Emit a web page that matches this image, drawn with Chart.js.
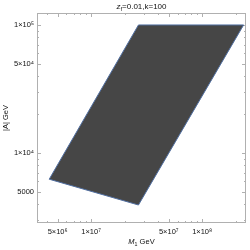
<!DOCTYPE html>
<html><head><meta charset="utf-8">
<script src="https://cdn.jsdelivr.net/npm/chart.js@4/dist/chart.umd.min.js"></script>
<style>html,body{margin:0;padding:0;background:#fff;}canvas{display:block;}</style>
</head><body>
<canvas id="c" width="250" height="250"></canvas>
<script>
// Region boundary (vertices of the allowed region, log-log)
const regionM = [4.2e6, 2.67e7, 2.36e8, 2.67e7, 4.2e6];
const regionA = [6240, 1.0e5, 1.0e5, 3925, 6240];
// Axis ticks
const xTickValues = [5e6, 1e7, 5e7, 1e8];
const xTickLabels = ['5×10⁶', '1×10⁷', '5×10⁷', '1×10⁸'];
const yTickValues = [5000, 1e4, 5e4, 1e5];
const yTickLabels = ['5000', '1×10⁴', '5×10⁴', '1×10⁵'];
const xMinorValues = [4e6, 6e6, 7e6, 8e6, 9e6, 2e7, 3e7, 4e7, 6e7, 7e7, 8e7, 9e7, 2e8];
const yMinorValues = [3000, 4000, 6000, 7000, 8000, 9000, 2e4, 3e4, 4e4, 6e4, 7e4, 8e4, 9e4];
const xRange = [3.26e6, 2.48e8];
const yRange = [2840, 1.24e5];
const titleParts = [['z', 'italic'], ['f', 'sub'], ['=0.01,k=100', 'normal']];
const xTitleParts = [['M', 'italic'], ['1', 'sub'], [' GeV', 'normal']];
const yTitleParts = [['|A| GeV', 'normal']];

const FONT = '"Liberation Sans", "DejaVu Sans", Arial, sans-serif';

function drawParts(ctx, parts, size, cx, cy) {
  const segs = parts.map(([t, s]) => {
    const fs = s === 'sub' ? size * 0.7 : size;
    const style = s === 'italic' ? 'italic ' : '';
    ctx.font = style + fs + 'px ' + FONT;
    return {t, s, font: ctx.font, w: ctx.measureText(t).width};
  });
  const total = segs.reduce((a, b) => a + b.w, 0);
  let x = cx - total / 2;
  ctx.textBaseline = 'middle';
  ctx.textAlign = 'left';
  for (const sg of segs) {
    ctx.font = sg.font;
    ctx.fillText(sg.t, x, sg.s === 'sub' ? cy + size * 0.3 : cy);
    x += sg.w;
  }
}

const framePlugin = {
  id: 'frame',
  beforeDatasetsDraw(chart) {
    const {ctx, chartArea: a, scales: {x, y}} = chart;
    ctx.save();
    ctx.strokeStyle = '#b0b0b0';
    ctx.lineWidth = 1;
    ctx.strokeRect(a.left + 0.5, a.top + 0.5, a.right - a.left - 1, a.bottom - a.top - 1);
    ctx.beginPath();
    const tick = (vals, len) => {
      for (const v of vals) {
        const px = Math.round(x.getPixelForValue(v)) + 0.5;
        ctx.moveTo(px, a.bottom); ctx.lineTo(px, a.bottom - len);
        ctx.moveTo(px, a.top); ctx.lineTo(px, a.top + len);
      }
    };
    const ytick = (vals, len) => {
      for (const v of vals) {
        const py = Math.round(y.getPixelForValue(v)) + 0.5;
        ctx.moveTo(a.left, py); ctx.lineTo(a.left + len, py);
        ctx.moveTo(a.right, py); ctx.lineTo(a.right - len, py);
      }
    };
    tick(xTickValues, 4); tick(xMinorValues, 2);
    ytick(yTickValues, 4); ytick(yMinorValues, 2);
    ctx.stroke();
    ctx.restore();
  },
  afterDraw(chart) {
    const {ctx, chartArea: a} = chart;
    ctx.save();
    ctx.fillStyle = '#111';
    const cx = (a.left + a.right) / 2;
    drawParts(ctx, titleParts, 8, cx, 7);
    drawParts(ctx, xTitleParts, 7.5, cx, 242);
    ctx.translate(6, (a.top + a.bottom) / 2);
    ctx.rotate(-Math.PI / 2);
    drawParts(ctx, yTitleParts, 7.5, 0, 0);
    ctx.restore();
  }
};

new Chart(document.getElementById('c'), {
  type: 'scatter',
  data: {
    datasets: [{
      data: regionM.map((m, i) => ({x: m, y: regionA[i]})),
      showLine: true,
      fill: 'shape',
      backgroundColor: 'rgb(70,70,70)',
      borderColor: 'rgb(80,110,160)',
      borderWidth: 1,
      pointRadius: 0,
      tension: 0
    }]
  },
  options: {
    responsive: false,
    animation: false,
    devicePixelRatio: 1,
    layout: {padding: {top: 13, right: 4, left: 0, bottom: 0}},
    plugins: {legend: {display: false}, tooltip: {enabled: false}, title: {display: false}, filler: {propagate: false}},
    scales: {
      x: {
        type: 'logarithmic', min: xRange[0], max: xRange[1],
        afterBuildTicks: s => { s.ticks = xTickValues.map(v => ({value: v})); },
        afterFit: s => { s.height = 27; },
        grid: {display: false, drawTicks: false},
        border: {display: false},
        ticks: {
          autoSkip: false, maxRotation: 0, padding: 4, color: '#111',
          font: {size: 7.5, family: FONT},
          callback: v => { const i = xTickValues.indexOf(v); return i >= 0 ? xTickLabels[i] : ''; }
        }
      },
      y: {
        type: 'logarithmic', min: yRange[0], max: yRange[1],
        afterBuildTicks: s => { s.ticks = yTickValues.map(v => ({value: v})); },
        afterFit: s => { s.width = 37; },
        grid: {display: false, drawTicks: false},
        border: {display: false},
        ticks: {
          autoSkip: false, padding: 3, color: '#111',
          font: {size: 7.5, family: FONT},
          callback: v => { const i = yTickValues.indexOf(v); return i >= 0 ? yTickLabels[i] : ''; }
        }
      }
    }
  },
  plugins: [framePlugin]
});
</script>
</body></html>
